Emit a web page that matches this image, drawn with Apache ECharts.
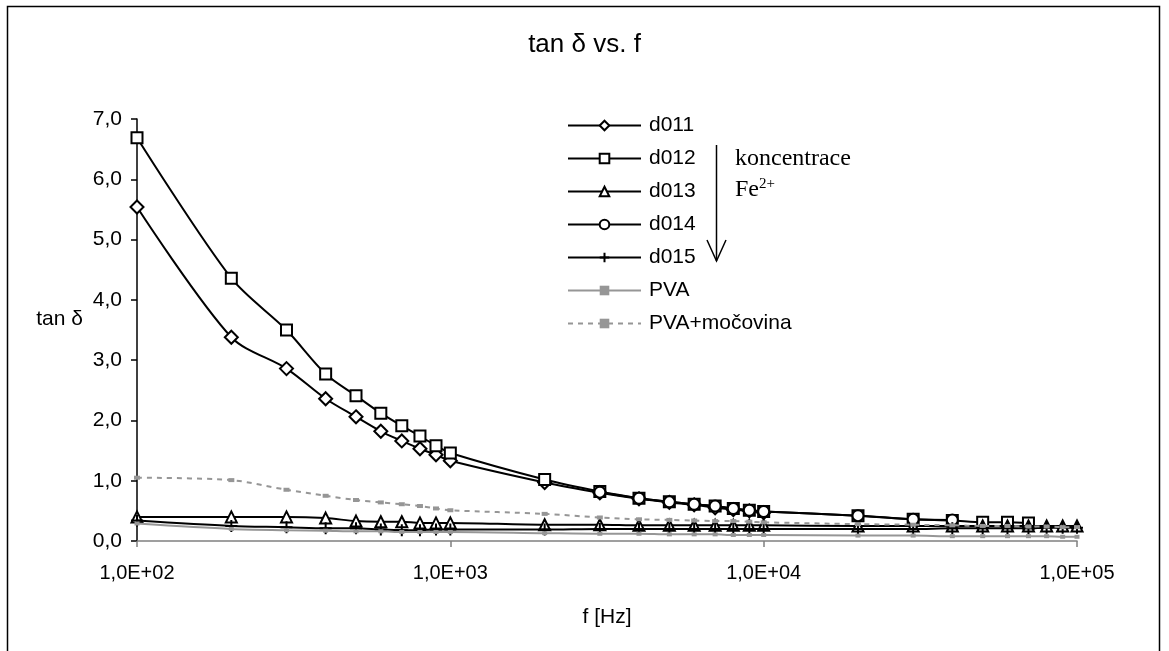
<!DOCTYPE html>
<html>
<head>
<meta charset="utf-8">
<script src="https://cdn.jsdelivr.net/npm/echarts@6/dist/echarts.min.js"></script>
<style>
  html, body { margin: 0; padding: 0; background: #fff; }
  #chart { width: 1169px; height: 651px; }
</style>
</head>
<body>
<div id="chart"></div>
<script>
// Frequencies [Hz]
const freq = [100, 200, 300, 400, 500, 600, 700, 800, 900, 1000,
  2000, 3000, 4000, 5000, 6000, 7000, 8000, 9000, 10000,
  20000, 30000, 40000, 50000, 60000, 70000, 80000, 90000, 100000];

// tan δ per sample
const d011 = [5.54, 3.38, 2.86, 2.36, 2.06, 1.82, 1.66, 1.53, 1.43, 1.33,
  0.97, 0.80, 0.70, 0.64, 0.60, 0.55, 0.52, 0.50, 0.47,
  null, null, null, null, null, null, null, null, null];
const d012 = [6.69, 4.36, 3.50, 2.77, 2.41, 2.12, 1.91, 1.74, 1.58, 1.46,
  1.02, 0.82, 0.71, 0.65, 0.61, 0.58, 0.54, 0.51, 0.49,
  0.42, 0.36, 0.34, 0.31, 0.31, 0.30, null, null, null];
const d013 = [0.40, 0.40, 0.40, 0.38, 0.33, 0.32, 0.32, 0.30, 0.30, 0.30,
  0.27, 0.27, 0.26, 0.26, 0.26, 0.26, 0.26, 0.26, 0.26,
  0.25, 0.25, 0.25, 0.25, 0.25, 0.25, 0.25, 0.25, 0.25];
const d014 = [null, null, null, null, null, null, null, null, null, null,
  null, 0.81, 0.71, 0.65, 0.61, 0.58, 0.54, 0.51, 0.49,
  0.42, 0.36, 0.35, null, null, null, null, null, null];
const d015 = [0.34, 0.25, 0.23, 0.21, 0.21, 0.19, 0.18, 0.18, 0.19, 0.19,
  0.19, 0.20, 0.20, 0.20, 0.20, 0.20, 0.20, 0.20, 0.20,
  0.20, 0.20, 0.21, 0.21, 0.21, 0.21, 0.22, 0.22, 0.22];
const pva = [0.29, 0.20, 0.18, 0.17, 0.16, 0.16, 0.15, 0.15, 0.15, 0.15,
  0.13, 0.12, 0.12, 0.11, 0.11, 0.11, 0.10, 0.10, 0.10,
  0.09, 0.09, 0.08, 0.08, 0.08, 0.08, 0.08, 0.07, 0.07];
const pvaMoc = [1.05, 1.01, 0.85, 0.75, 0.68, 0.64, 0.61, 0.58, 0.54, 0.51,
  0.45, 0.39, 0.36, 0.35, 0.34, 0.33, 0.33, 0.32, 0.31,
  0.28, 0.27, 0.26, 0.25, 0.25, 0.24, 0.24, 0.23, 0.23];

// Axis tick labels
const xTickLabels = ['1,0E+02', '1,0E+03', '1,0E+04', '1,0E+05'];
const yTickLabels = ['0,0', '1,0', '2,0', '3,0', '4,0', '5,0', '6,0', '7,0'];

const FONT = '"Liberation Sans", Arial, sans-serif';
const SERIF = '"Liberation Serif", "Times New Roman", serif';
const CROSS = 'path://M5,0 L5,10 M0,5 L10,5';
const GRAY = '#969696';

function pairs(vals) {
  return freq.map((f, i) => [f, vals[i]]);
}

// Later series are stacked above earlier ones (lines included)
function blackSeries(name, vals, symbol, size, order) {
  return {
    name: name,
    type: 'line',
    z: 2 + order,
    data: pairs(vals),
    smooth: 0.3,
    symbol: symbol,
    symbolSize: size,
    showAllSymbol: true,
    connectNulls: false,
    lineStyle: { color: '#000', width: 2 },
    itemStyle: { color: symbol === CROSS ? '#000' : '#fff', borderColor: '#000', borderWidth: 2 },
    emphasis: { disabled: true }
  };
}

const chart = echarts.init(document.getElementById('chart'), null, { renderer: 'canvas' });

chart.setOption({
  animation: false,
  backgroundColor: '#fff',
  title: {
    text: 'tan δ vs. f',
    left: 'center',
    top: 27,
    textStyle: { fontFamily: FONT, fontSize: 26, fontWeight: 'normal', color: '#000' }
  },
  grid: { left: 137, right: 92, top: 119, bottom: 110, containLabel: false },
  legend: {
    orient: 'vertical',
    left: 567,
    top: 115,
    padding: 0,
    itemWidth: 73,
    itemHeight: 12,
    itemGap: 12,
    textStyle: { fontFamily: FONT, fontSize: 21, color: '#000', padding: [0, 0, 0, 3] },
    data: ['d011', 'd012', 'd013', 'd014', 'd015', 'PVA', 'PVA+močovina']
  },
  xAxis: {
    type: 'log',
    logBase: 10,
    min: 100,
    max: 100000,
    name: 'f [Hz]',
    nameLocation: 'middle',
    nameGap: 66,
    nameTextStyle: { fontFamily: FONT, fontSize: 21, color: '#000' },
    axisLine: { lineStyle: { color: '#808080', width: 1.5 } },
    axisTick: { show: true, length: 6, lineStyle: { color: '#808080', width: 1.5 } },
    axisLabel: {
      fontFamily: FONT, fontSize: 20, color: '#000', margin: 22,
      formatter: function (v) {
        const i = Math.round(Math.log10(v)) - 2;
        return xTickLabels[i] || '';
      }
    },
    splitLine: { show: false },
    minorTick: { show: false }
  },
  yAxis: {
    type: 'value',
    min: 0,
    max: 7,
    interval: 1,
    name: 'tan δ',
    nameLocation: 'middle',
    nameRotate: 0,
    nameGap: 54,
    nameTextStyle: { fontFamily: FONT, fontSize: 21, color: '#000', verticalAlign: 'bottom' },
    axisLine: { show: true, lineStyle: { color: '#000', width: 1.5 } },
    axisTick: { show: true, length: 6, lineStyle: { color: '#000', width: 1.5 } },
    axisLabel: {
      fontFamily: FONT, fontSize: 21, color: '#000', margin: 15,
      formatter: function (v) { return yTickLabels[Math.round(v)]; }
    },
    splitLine: { show: false }
  },
  series: [
    blackSeries('d011', d011, 'diamond', 13, 0),
    blackSeries('d012', d012, 'rect', 11, 1),
    blackSeries('d013', d013, 'triangle', 11, 2),
    blackSeries('d014', d014, 'circle', 11, 3),
    blackSeries('d015', d015, CROSS, 12, 4),
    {
      name: 'PVA',
      type: 'line',
      z: 7,
      data: pairs(pva),
      smooth: 0.3,
      symbol: 'rect',
      symbolSize: [5, 4],
      showAllSymbol: true,
      lineStyle: { color: GRAY, width: 2 },
      itemStyle: { color: GRAY },
      emphasis: { disabled: true }
    },
    {
      name: 'PVA+močovina',
      type: 'line',
      z: 8,
      data: pairs(pvaMoc),
      smooth: 0.3,
      symbol: 'rect',
      symbolSize: [6, 4],
      showAllSymbol: true,
      lineStyle: { color: GRAY, width: 2, type: [5, 5] },
      itemStyle: { color: GRAY },
      emphasis: { disabled: true }
    }
  ],
  graphic: [
    // outer frame
    { type: 'rect', shape: { x: 7.5, y: 6.5, width: 1152, height: 660 },
      style: { fill: null, stroke: '#000', lineWidth: 1.5 }, silent: true, z: 0 },
    // concentration arrow
    { type: 'line', shape: { x1: 716.5, y1: 145, x2: 716.5, y2: 261 },
      style: { stroke: '#000', lineWidth: 1.5 }, silent: true },
    { type: 'polyline', shape: { points: [[707, 240], [716.5, 261], [726, 240]] },
      style: { stroke: '#000', lineWidth: 1.5, fill: null }, silent: true },
    { type: 'text', left: 735, top: 147,
      style: { text: 'koncentrace', font: '24px ' + SERIF, fill: '#000' }, silent: true },
    { type: 'text', left: 735, top: 177,
      style: {
        text: '{b|Fe}{s|2+}',
        rich: {
          b: { font: '24px ' + SERIF, fill: '#000' },
          s: { font: '15px ' + SERIF, fill: '#000', verticalAlign: 'top', padding: [0, 0, 10, 0] }
        }
      }, silent: true }
  ]
});
</script>
</body>
</html>
